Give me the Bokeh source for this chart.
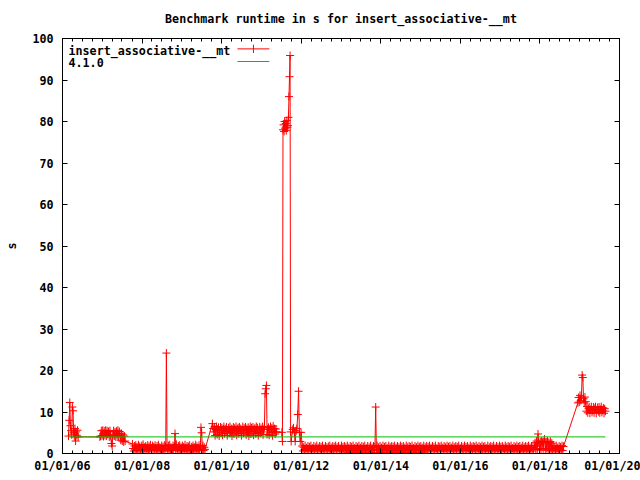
import pandas as pd
from bokeh.plotting import figure
from bokeh.models import (Range1d, FixedTicker, DatetimeTickFormatter, LinearAxis,
                          DatetimeAxis, Label, Arrow, CustomLabelingPolicy)
from bokeh.embed import file_html
from bokeh.resources import INLINE

TITLE = "Benchmark runtime in s for insert_associative-__mt"
SERIES_NAME = "insert_associative-__mt"
BASE_NAME = "4.1.0"
Y_LABEL = "s"

seg_a_dates = ("2006-02-25", "2006-05-25")
seg_a_vals = [4.2, 8.0, 12.3, 6.7, 5.5, 4.5, 11.2, 10.3, 5.0, 4.0, 6.0, 3.0, 5.2, 4.4, 5.6, 4.0]

seg_b_dates = ("2006-12-10", "2007-07-30")
seg_b_vals = [4.0, 4.2, 5.5, 4.3, 5.6, 4.1, 5.4, 4.4, 5.6, 4.2, 5.5, 4.6, 5.3, 4.0, 5.5, 4.3,
              2.4, 1.8, 4.5, 5.5, 4.2, 5.2, 4.0, 5.4, 4.3, 5.6, 4.1, 5.3, 4.4, 3.2, 4.8, 3.0,
              4.5, 2.8, 4.2, 3.0]

seg_c_dates = ("2007-10-05", "2009-08-01")
seg_c_vals = [2.3, 1.2, 0.6, 1.8, 0.9, 2.0, 0.7, 1.6, 1.0, 2.1,
              0.8, 1.7, 1.1, 0.6, 1.9, 1.0, 2.2, 0.7, 1.5, 0.9,
              1.8, 1.2, 0.6, 2.0, 1.0, 1.7, 0.8, 2.1, 1.3, 0.7,
              1.9, 1.0, 1.6, 0.8, 2.0, 1.2, 0.7, 1.8, 1.0, 2.1,
              0.8, 1.5, 1.1, 0.6, 1.9, 0.7, 1.6, 1.0, 2.0, 0.8,
              1.7, 24.2, 1.2, 0.6, 1.9, 1.0, 2.1, 0.8, 1.5, 1.1,
              0.7, 1.9, 1.0, 1.6, 4.8, 0.8, 2.2, 1.2, 0.7, 1.8,
              1.0, 2.0, 0.6, 1.5, 1.1, 1.9, 0.8, 1.6, 0.7, 2.1,
              1.2, 0.6, 1.8, 1.0, 1.7, 0.8, 2.0, 0.0, 1.1, 1.6,
              0.7, 1.9, 1.0, 1.5, 0.8, 2.1, 0.6, 1.7, 1.2, 0.9,
              2.0, 0.8, 1.6, 6.3, 5.0, 1.1, 1.9, 0.7, 1.5, 1.0]

seg_d_dates = ("2009-10-08", "2011-05-20")
seg_d_vals = [7.2, 6.0, 5.2, 6.4, 4.3, 5.8, 6.5, 4.6, 5.9, 6.3, 4.2, 5.6,
              6.4, 5.0, 6.2, 4.4, 5.9, 6.5, 4.8, 6.0, 5.3, 6.4, 4.3, 5.7,
              6.2, 4.9, 6.5, 5.1, 6.0, 4.2, 5.8, 6.4, 4.7, 6.1, 5.4, 6.5,
              4.4, 5.9, 6.2, 4.8, 6.4, 5.2, 6.0, 4.3, 5.7, 6.5, 4.9, 6.1,
              5.5, 6.4, 4.5, 6.0, 5.1, 6.3, 4.2, 5.8, 6.5, 4.7, 6.2, 5.3,
              6.4, 4.4, 5.9, 6.1, 4.8, 6.5, 5.0, 6.2, 4.3, 5.6, 6.4, 4.9,
              6.0, 5.2, 6.5, 4.5, 5.8, 6.3, 14.4, 15.6, 16.4, 4.6, 5.9, 6.3,
              4.4, 5.8, 6.5, 5.0, 6.1, 4.3, 6.6, 5.2, 6.0, 4.7, 5.9, 5.2]

seg_e_dates = ("2011-07-08", "2011-10-01")
seg_e_vals = [5.1, 2.9, 78.0, 79.2, 77.6, 80.0, 78.4, 79.5, 77.8, 80.2, 78.6, 79.0,
              81.0, 86.0, 90.8, 95.9, 5.2, 2.9]

seg_f_dates = ("2011-10-15", "2011-12-31")
seg_f_vals = [5.8, 6.2, 5.0, 2.9, 5.5, 6.0, 9.4, 15.0, 5.1, 2.9, 5.1]

seg_g_dates = ("2012-01-10", "2018-08-05")
seg_g_vals = [1.8, 0.6, 1.5, 0.9, 1.9, 0.7, 1.4, 1.0, 1.8, 0.6, 1.6, 0.8, 1.9, 0.7, 1.3, 1.0, 1.8, 0.6, 1.5, 0.9,
              1.9, 0.7, 1.4, 1.1, 1.8, 0.6, 1.6, 0.8, 1.9, 0.7, 1.3, 1.0, 1.8, 0.6, 1.5, 0.9, 1.7, 0.8, 1.9, 0.6,
              1.4, 1.0, 1.8, 0.7, 1.6, 0.9, 1.9, 0.6, 1.5, 1.1, 1.8, 0.7, 1.3, 0.9, 1.9, 0.6, 1.6, 1.0, 1.8, 0.8,
              1.5, 0.6, 1.9, 0.2, 1.4, 1.0, 1.8, 0.7, 1.6, 0.3, 1.9, 0.8, 1.3, 0.6, 1.8, 0.2, 1.5, 0.9, 1.9, 0.7,
              1.4, 0.3, 1.8, 0.6, 1.6, 1.0, 1.9, 0.2, 1.3, 0.8, 1.8, 0.6, 1.5, 0.3, 1.9, 0.7, 1.4, 1.0, 1.8, 0.2,
              1.6, 11.2, 0.7, 1.9, 0.3, 1.5, 0.8, 1.8, 0.6, 1.4, 0.2, 1.9, 0.7, 1.6, 1.0, 1.8, 0.3, 1.3, 0.6, 1.9,
              0.8, 1.5, 0.2, 1.8, 0.7, 1.6, 0.3, 1.9, 0.6, 1.4, 1.0, 1.8, 0.2, 1.5, 0.7, 1.9, 0.3, 1.6, 0.8, 1.8,
              0.2, 1.4, 0.6, 1.9, 0.7, 1.5, 0.3, 1.8, 1.0, 1.6, 0.2, 1.9, 0.6, 1.3, 0.8, 1.8, 0.3, 1.5, 0.7, 1.9,
              0.2, 1.6, 0.9, 1.8, 0.6, 1.4, 0.3, 1.9, 0.7, 1.5, 1.0, 1.8, 0.6, 1.6, 0.8, 1.9, 0.7, 1.4, 1.1, 1.8,
              0.6, 1.5, 0.9, 1.9, 0.7, 1.3, 1.0, 1.8, 0.6, 1.6, 0.8, 1.9, 0.7, 1.4, 1.1, 1.8, 0.6, 1.5, 0.9, 1.9,
              0.7, 1.6, 1.0, 1.8, 0.8, 1.4, 0.6, 1.9, 0.9, 1.5, 0.7, 1.8, 1.1, 1.6, 0.6, 1.9, 0.8, 1.3, 1.0, 1.8,
              0.7, 1.5, 0.9, 1.9, 0.6, 1.6, 1.0, 1.8, 0.7, 1.4, 0.8, 1.9, 0.6, 1.5, 1.1, 1.8, 0.7, 1.6, 0.9, 1.9,
              0.6, 1.4, 1.0, 1.8, 0.8, 1.5, 0.7, 1.9, 0.6, 1.6, 1.0, 1.8, 0.7, 1.3, 0.9, 1.9, 0.6, 1.5, 1.1, 1.8,
              0.8, 1.6, 0.7, 1.9, 0.9, 1.4, 0.6, 1.8, 1.0, 1.5, 0.7, 1.9, 0.8, 1.6, 0.6, 1.8, 1.1, 1.4, 0.7, 1.9,
              0.9, 1.5, 0.6, 1.8, 0.8, 1.6, 1.0, 1.9, 0.7, 1.3, 0.6, 1.8, 0.9, 1.5, 0.7, 1.9, 1.0, 1.6, 0.8, 1.8,
              0.6, 1.4, 0.9, 1.9, 0.7, 1.5, 1.1, 1.8, 0.6, 1.6, 0.8, 1.9, 0.7, 1.4, 1.0, 1.8, 0.6, 1.5, 0.9, 1.9,
              2.6, 1.0, 3.0, 0.9, 4.7, 2.5, 1.2, 2.8, 0.8, 3.0, 2.6, 1.1, 2.9, 3.5, 0.9, 2.7, 1.2, 3.0, 0.8, 2.6,
              1.1, 2.9, 0.7, 2.5, 1.0, 1.8, 0.6, 1.5, 0.9, 1.9, 0.7, 1.4, 1.0, 1.8, 0.6, 1.6, 0.8, 1.9, 0.7, 1.7]

seg_i_dates = ("2018-12-15", "2019-08-25")
seg_i_vals = [12.2, 13.5, 12.4, 14.0, 12.8, 13.6, 18.9, 18.3, 13.2, 12.2, 13.6, 12.5,
              10.2, 11.3, 9.8, 10.8, 11.2, 9.7, 10.6, 11.3, 9.9, 10.4, 11.2, 9.8,
              10.9, 11.3, 9.7, 10.5, 11.1, 10.1, 11.2, 9.8, 10.6, 11.3, 9.9, 10.4,
              11.0, 9.7, 10.8, 10.2]

base_dates = ["2006-02-25", "2019-08-25"]
base_vals = [4.0, 4.0]

x_tick_dates = ["2006-01-01", "2008-01-01", "2010-01-01", "2012-01-01",
                "2014-01-01", "2016-01-01", "2018-01-01", "2020-01-01"]
y_ticks = [0, 10, 20, 30, 40, 50, 60, 70, 80, 90, 100]

FONT = "DejaVu Sans Mono"
FSIZE = "11.7px"


def ms(s):
    return pd.Timestamp(s).value / 1e6


segments = [(seg_a_dates, seg_a_vals), (seg_b_dates, seg_b_vals), (seg_c_dates, seg_c_vals),
            (seg_d_dates, seg_d_vals), (seg_e_dates, seg_e_vals), (seg_f_dates, seg_f_vals),
            (seg_g_dates, seg_g_vals), (seg_i_dates, seg_i_vals)]
xs, ys = [], []
for (d0, d1), vals in segments:
    idx = pd.date_range(d0, d1, periods=len(vals))
    xs.extend([t.value / 1e6 for t in idx])
    ys.extend(vals)

bx = [ms(d) for d in base_dates]

p = figure(width=640, height=480, x_axis_type="datetime",
           x_range=Range1d(ms(x_tick_dates[0]), ms(x_tick_dates[-1])),
           y_range=Range1d(y_ticks[0], y_ticks[-1]),
           output_backend="svg", toolbar_location=None,
           min_border_left=62, min_border_right=21, min_border_top=38, min_border_bottom=27,
           title=TITLE)
p.grid.visible = False
p.outline_line_color = "black"
p.outline_line_width = 1
p.background_fill_color = "white"
p.border_fill_color = "white"

p.title.align = "center"
p.title.text_font = FONT
p.title.text_font_size = FSIZE
p.title.text_font_style = "bold"
p.title.text_color = "black"
p.title.standoff = 18

xa = p.xaxis[0]
ya = p.yaxis[0]

major_x = [ms(d) for d in x_tick_dates]
minor_x = [t.value / 1e6 for t in pd.date_range(x_tick_dates[0], x_tick_dates[-1], freq="QS")]
xt = FixedTicker(ticks=major_x, minor_ticks=minor_x)
yt = FixedTicker(ticks=y_ticks)
fmt = DatetimeTickFormatter(years="%m/%d/%y", months="%m/%d/%y", days="%m/%d/%y",
                            hours="%m/%d/%y", minutes="%m/%d/%y")

top = DatetimeAxis()
right = LinearAxis()
p.add_layout(top, "above")
p.add_layout(right, "right")


def style(ax, is_x, labels):
    ax.ticker = xt if is_x else yt
    ax.axis_line_color = "black"
    ax.major_tick_line_color = "black"
    ax.major_tick_in = 5
    ax.major_tick_out = 0
    if is_x:
        ax.minor_tick_line_color = "black"
        ax.minor_tick_in = 3
        ax.minor_tick_out = 0
    else:
        ax.minor_tick_line_color = None
    ax.major_label_text_font = FONT
    ax.major_label_text_font_style = "bold"
    ax.major_label_text_color = "black"
    if labels:
        ax.major_label_text_font_size = FSIZE
    else:
        ax.major_label_text_font_size = "1px"
        ax.major_label_standoff = 0
        ax.major_label_policy = CustomLabelingPolicy(code="return new Set()")


xa.formatter = fmt
top.formatter = fmt
style(xa, True, True)
style(top, True, False)
style(ya, False, True)
style(right, False, False)
xa.major_label_standoff = 5
ya.major_label_standoff = 9
ya.axis_label = Y_LABEL
ya.axis_label_text_font = FONT
ya.axis_label_text_font_size = FSIZE
ya.axis_label_text_font_style = "bold"
ya.axis_label_text_color = "black"
ya.axis_label_standoff = 10

# series
p.line(xs, ys, line_color="#ff0000", line_width=1)
p.scatter(xs, ys, marker="cross", size=8, line_color="#ff0000", line_width=1)
p.line(bx, base_vals, line_color="#00c000", line_width=1)

# key (gnuplot style: text, then sample)
p.add_layout(Label(x=ms("2006-02-25"), y=97.1, text=SERIES_NAME, text_font=FONT,
                   text_font_size=FSIZE, text_font_style="bold", text_baseline="middle",
                   text_color="black"))
p.add_layout(Label(x=ms("2006-02-25"), y=94.2, text=BASE_NAME, text_font=FONT,
                   text_font_size=FSIZE, text_font_style="bold", text_baseline="middle",
                   text_color="black"))
p.add_layout(Arrow(end=None, x_start=ms("2010-05-26"), y_start=97.5, x_end=ms("2011-03-15"),
                   y_end=97.5, line_color="#ff0000", line_width=1))
p.add_layout(Arrow(end=None, x_start=ms("2010-10-20"), y_start=96.5, x_end=ms("2010-10-20"),
                   y_end=98.5, line_color="#ff0000", line_width=1))
p.add_layout(Arrow(end=None, x_start=ms("2010-05-26"), y_start=94.46, x_end=ms("2011-03-15"),
                   y_end=94.46, line_color="#00c000", line_width=1))

open("out.html", "w").write(file_html(p, INLINE))
